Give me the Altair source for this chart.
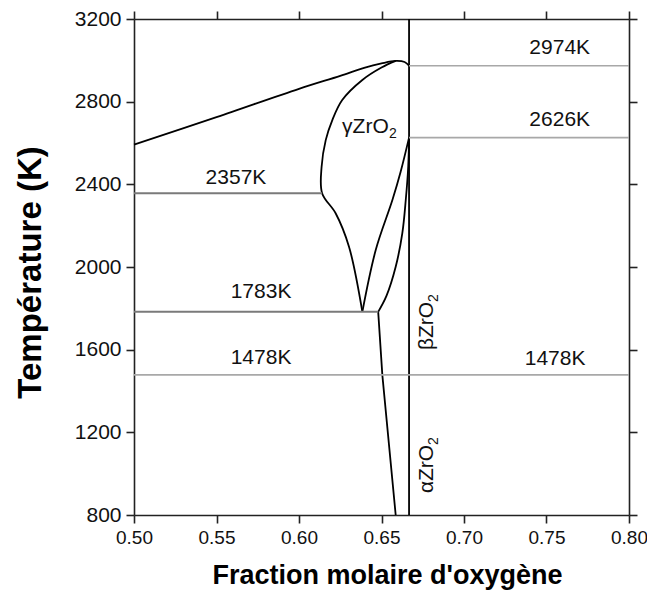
import altair as alt
import pandas as pd

# ---- data (x = oxygen mole fraction, T in K) ----
liq_x = [0.500, 0.550, 0.600, 0.625, 0.640, 0.650, 0.6586, 0.6640, 0.6667]
liq_T = [2592, 2725, 2862, 2925, 2965, 2985, 2997, 2992, 2974]

gam_left_x = [0.6586, 0.650, 0.6384, 0.6262, 0.6202, 0.6162, 0.6137, 0.6140, 0.6222, 0.6303, 0.6384]
gam_left_T = [2997, 2965, 2905, 2808, 2711, 2614, 2485, 2357, 2260, 2098, 1783]

gam_right_x = [0.6384, 0.6465, 0.6566, 0.6616, 0.6667]
gam_right_T = [1783, 2082, 2324, 2461, 2626]

beta_left_x = [0.648, 0.6530, 0.6586, 0.6626, 0.6647, 0.6662, 0.6667]
beta_left_T = [1783, 1860, 2001, 2163, 2324, 2485, 2626]

alpha_left_x = [0.648, 0.6505, 0.6586]
alpha_left_T = [1783, 1478, 800]

zro2_x = [0.6667]
zro2_T = [800, 3200]

# isotherms (dark: left part, light: long lines)
iso_dark_T = [2357, 1783]
iso_dark_x1 = [0.500, 0.500]
iso_dark_x2 = [0.614, 0.648]
iso_light_T = [2974, 2626, 1478]
iso_light_x1 = [0.6667, 0.6667, 0.500]
iso_light_x2 = [0.800, 0.800, 0.800]

iso_lab_text = ["2974K", "2626K", "2357K", "1783K", "1478K", "1478K"]
iso_lab_x = [0.758, 0.758, 0.5618, 0.577, 0.577, 0.7552]
iso_lab_T = [3060, 2711, 2431, 1877, 1562, 1555]

gamma_lab = ["γZrO"]
gamma_x = [0.6261]
gamma_T = [2648]
rot_lab = ["βZrO", "αZrO"]
rot_x = [0.6812, 0.6812]
rot_T = [1598, 906]

x_ticks = [0.50, 0.55, 0.60, 0.65, 0.70, 0.75, 0.80]
y_ticks = [800, 1200, 1600, 2000, 2400, 2800, 3200]

# ---- tables ----
def curve(name, xs, ts):
    return pd.DataFrame({"x": xs, "T": ts, "curve": name, "ord": list(range(len(xs)))})

smooth = pd.concat([
    curve("liquidus", liq_x, liq_T),
    curve("gamma_left", gam_left_x, gam_left_T),
    curve("gamma_right", gam_right_x, gam_right_T),
    curve("beta_left", beta_left_x, beta_left_T),
])
straight = curve("alpha_left", alpha_left_x, alpha_left_T)
vline = pd.DataFrame({"x": zro2_x, "T": [zro2_T[0]], "T2": [zro2_T[1]]})
iso_dark = pd.DataFrame({"T": iso_dark_T, "x": iso_dark_x1, "x2": iso_dark_x2})
iso_light = pd.DataFrame({"T": iso_light_T, "x": iso_light_x1, "x2": iso_light_x2})
iso_lab = pd.DataFrame({"t": iso_lab_text, "x": iso_lab_x, "T": iso_lab_T})
gam_df = pd.DataFrame({"t": gamma_lab, "x": gamma_x, "T": gamma_T})
rot_df = pd.DataFrame({"t": rot_lab, "x": rot_x, "T": rot_T})

xs = alt.Scale(domain=[0.5, 0.8], nice=False, zero=False)
ys = alt.Scale(domain=[800, 3200], nice=False, zero=False)
FONT = "Liberation Sans"

x_bottom = alt.X("x:Q", scale=xs, axis=alt.Axis(
    values=x_ticks, format=".2f", grid=False, tickSize=8, labelPadding=5,
    labelFlush=False, labelFontSize=19, title="Fraction molaire d'oxygène",
    titleFontSize=27, titleFontWeight="bold", titleX=253, titleY=68,
    titleAlign="center", titleBaseline="alphabetic"))
y_left = alt.Y("T:Q", scale=ys, axis=alt.Axis(
    values=y_ticks, format="d", grid=False, tickSize=8, labelPadding=5,
    labelFlush=False, labelFontSize=21,
    title="Température (K)", titleFontSize=33, titleFontWeight="bold",
    titleAngle=270, titleX=-94, titleY=253, titleAlign="center",
    titleBaseline="alphabetic"))

base_layer = alt.Chart(smooth).mark_line(
    color="black", strokeWidth=1.8, interpolate="catmull-rom"
).encode(x=x_bottom, y=y_left, detail="curve:N", order="ord:Q")

frame_layer = alt.Chart(vline).mark_rule(color="black", strokeWidth=1.8).encode(
    x=alt.X("x:Q", scale=xs, axis=alt.Axis(orient="top", values=x_ticks, labels=False,
                                           grid=False, tickSize=8, title=None)),
    y=alt.Y("T:Q", scale=ys, axis=alt.Axis(orient="right", values=y_ticks, labels=False,
                                           grid=False, tickSize=8, title=None)),
    y2="T2:Q",
)

alpha_layer = alt.Chart(straight).mark_line(color="black", strokeWidth=1.8).encode(
    x=alt.X("x:Q", scale=xs, axis=None), y=alt.Y("T:Q", scale=ys, axis=None),
    detail="curve:N", order="ord:Q")

dark_layer = alt.Chart(iso_dark).mark_rule(color="#7a7a7a", strokeWidth=2).encode(
    x=alt.X("x:Q", scale=xs, axis=None), x2="x2:Q", y=alt.Y("T:Q", scale=ys, axis=None))
light_layer = alt.Chart(iso_light).mark_rule(color="#a8a8a8", strokeWidth=1.6).encode(
    x=alt.X("x:Q", scale=xs, axis=None), x2="x2:Q", y=alt.Y("T:Q", scale=ys, axis=None))

lab_layer = alt.Chart(iso_lab).mark_text(
    font=FONT, fontSize=21, color="#111", align="center", baseline="middle"
).encode(x=alt.X("x:Q", scale=xs, axis=None), y=alt.Y("T:Q", scale=ys, axis=None), text="t:N")

gam_layer = alt.Chart(gam_df).mark_text(
    font=FONT, fontSize=21, color="#111", align="left", baseline="alphabetic"
).encode(x=alt.X("x:Q", scale=xs, axis=None), y=alt.Y("T:Q", scale=ys, axis=None), text="t:N")
gam_sub = alt.Chart(gam_df).mark_text(
    font=FONT, fontSize=14, color="#111", align="left", baseline="alphabetic", dx=47, dy=5
).encode(x=alt.X("x:Q", scale=xs, axis=None), y=alt.Y("T:Q", scale=ys, axis=None),
         text=alt.value("2"))

rot_layer = alt.Chart(rot_df).mark_text(
    font=FONT, fontSize=21, color="#111", align="left", baseline="alphabetic", angle=270
).encode(x=alt.X("x:Q", scale=xs, axis=None), y=alt.Y("T:Q", scale=ys, axis=None), text="t:N")
rot_sub = alt.Chart(rot_df).mark_text(
    font=FONT, fontSize=14, color="#111", align="left", baseline="alphabetic", angle=270,
    dx=48, dy=5
).encode(x=alt.X("x:Q", scale=xs, axis=None), y=alt.Y("T:Q", scale=ys, axis=None),
         text=alt.value("2"))

chart = alt.layer(
    base_layer, frame_layer, alpha_layer, dark_layer, light_layer,
    lab_layer, gam_layer, gam_sub, rot_layer, rot_sub
).resolve_axis(x="independent", y="independent").properties(
    width=495, height=496,
    padding={"left": 126, "top": 11, "right": 18, "bottom": 76},
    autosize=alt.AutoSizeParams(type="none"),
).configure_view(stroke=None).configure_axis(
    labelFont=FONT, titleFont=FONT, labelColor="#111", titleColor="#000",
    domainColor="#222", domainWidth=1.6, tickColor="#222", tickWidth=1.6,
)

chart.save("out.html", embed_options={"renderer": "svg", "actions": False})
